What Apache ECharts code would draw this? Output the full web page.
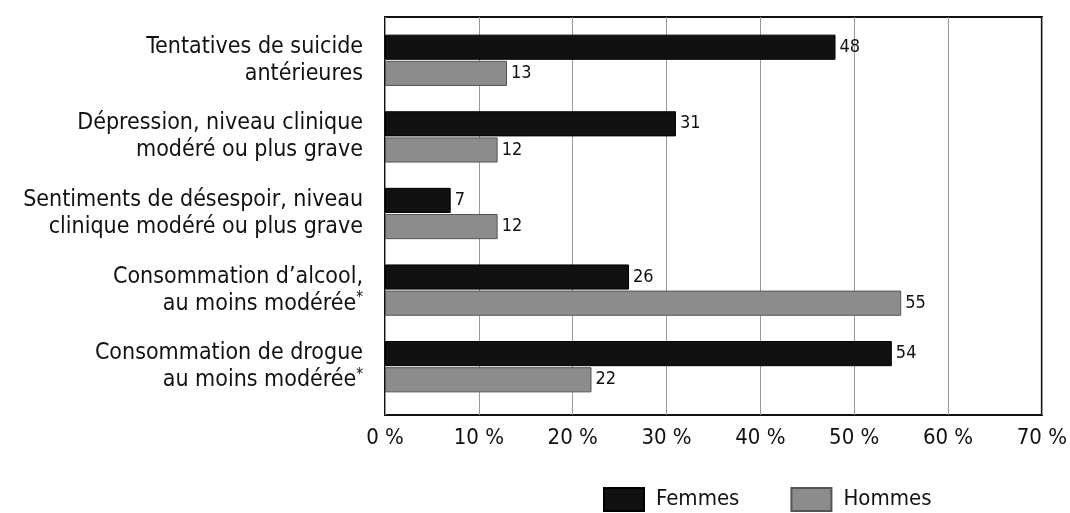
<!DOCTYPE html>
<html>
<head>
<meta charset="utf-8">
<script src="https://cdn.jsdelivr.net/npm/echarts@6/dist/echarts.min.js"></script>
<style>
  html, body { margin: 0; padding: 0; background: #fff; }
  #chart { width: 1070px; height: 513px; }
</style>
</head>
<body>
<div id="chart"></div>
<script>
// categories, top to bottom
const categories = [
  'Tentatives de suicide\nantérieures',
  'Dépression, niveau clinique\nmodéré ou plus grave',
  'Sentiments de désespoir, niveau\nclinique modéré ou plus grave',
  'Consommation d’alcool,\nau moins modérée*',
  'Consommation de drogue\nau moins modérée*'
];
const femmes = [48, 31, 7, 26, 54];
const hommes = [13, 12, 12, 55, 22];
const xTicks = [0, 10, 20, 30, 40, 50, 60, 70];

const FONT = '"DejaVu Sans Condensed", "Liberation Sans Narrow", "Liberation Sans", sans-serif';

const chart = echarts.init(document.getElementById('chart'), null, { renderer: 'canvas' });

const valueLabel = {
  show: true,
  position: 'right',
  distance: 4,
  color: '#111',
  fontFamily: FONT,
  fontSize: 18
};

const option = {
  animation: false,
  backgroundColor: '#fff',
  textStyle: { fontFamily: FONT },
  grid: [
    // bars
    { left: 385, right: 28, top: 22, bottom: 108, containLabel: false },
    // frame + gridlines
    { left: 385, right: 28, top: 17, bottom: 98, show: true, borderColor: '#111', borderWidth: 2, backgroundColor: 'transparent' }
  ],
  legend: {
    left: 603,
    top: 487,
    padding: 0,
    itemWidth: 40,
    itemHeight: 23,
    itemGap: 51,
    icon: 'rect',
    textStyle: { fontFamily: FONT, fontSize: 22, color: '#111', padding: [0, 0, 0, 7] },
    data: ['Femmes', 'Hommes']
  },
  xAxis: [
    { gridIndex: 0, type: 'value', min: 0, max: 70, interval: 10, show: false },
    {
      gridIndex: 1, type: 'value', min: 0, max: 70, interval: 10,
      axisLine: { show: false },
      axisTick: { show: false },
      splitLine: { show: true, lineStyle: { color: '#999', width: 1 } },
      axisLabel: {
        margin: 12,
        fontFamily: FONT,
        fontSize: 22,
        color: '#111',
        formatter: v => xTicks.includes(v) ? v + ' %' : ''
      }
    }
  ],
  yAxis: [
    {
      gridIndex: 0,
      type: 'category',
      inverse: true,
      data: categories,
      axisLine: { show: false },
      axisTick: { show: false },
      axisLabel: {
        margin: 22,
        fontFamily: FONT,
        fontSize: 23,
        lineHeight: 27,
        color: '#111',
        align: 'right',
        formatter: v => v.replace('*', '{sup|*}'),
        rich: {
          sup: { fontFamily: FONT, fontSize: 15, color: '#111', padding: [0, 0, 10, 0] }
        }
      }
    },
    { gridIndex: 1, type: 'value', show: false, min: 0, max: 1 }
  ],
  series: [
    {
      name: 'Femmes',
      type: 'bar',
      xAxisIndex: 0,
      yAxisIndex: 0,
      data: femmes,
      barGap: '4%',
      barCategoryGap: '33%',
      itemStyle: { color: '#111', borderColor: '#000', borderWidth: 1 },
      label: valueLabel
    },
    {
      name: 'Hommes',
      type: 'bar',
      xAxisIndex: 0,
      yAxisIndex: 0,
      data: hommes,
      itemStyle: { color: '#8c8c8c', borderColor: '#555', borderWidth: 1 },
      label: valueLabel
    }
  ]
};

chart.setOption(option);
</script>
</body>
</html>
